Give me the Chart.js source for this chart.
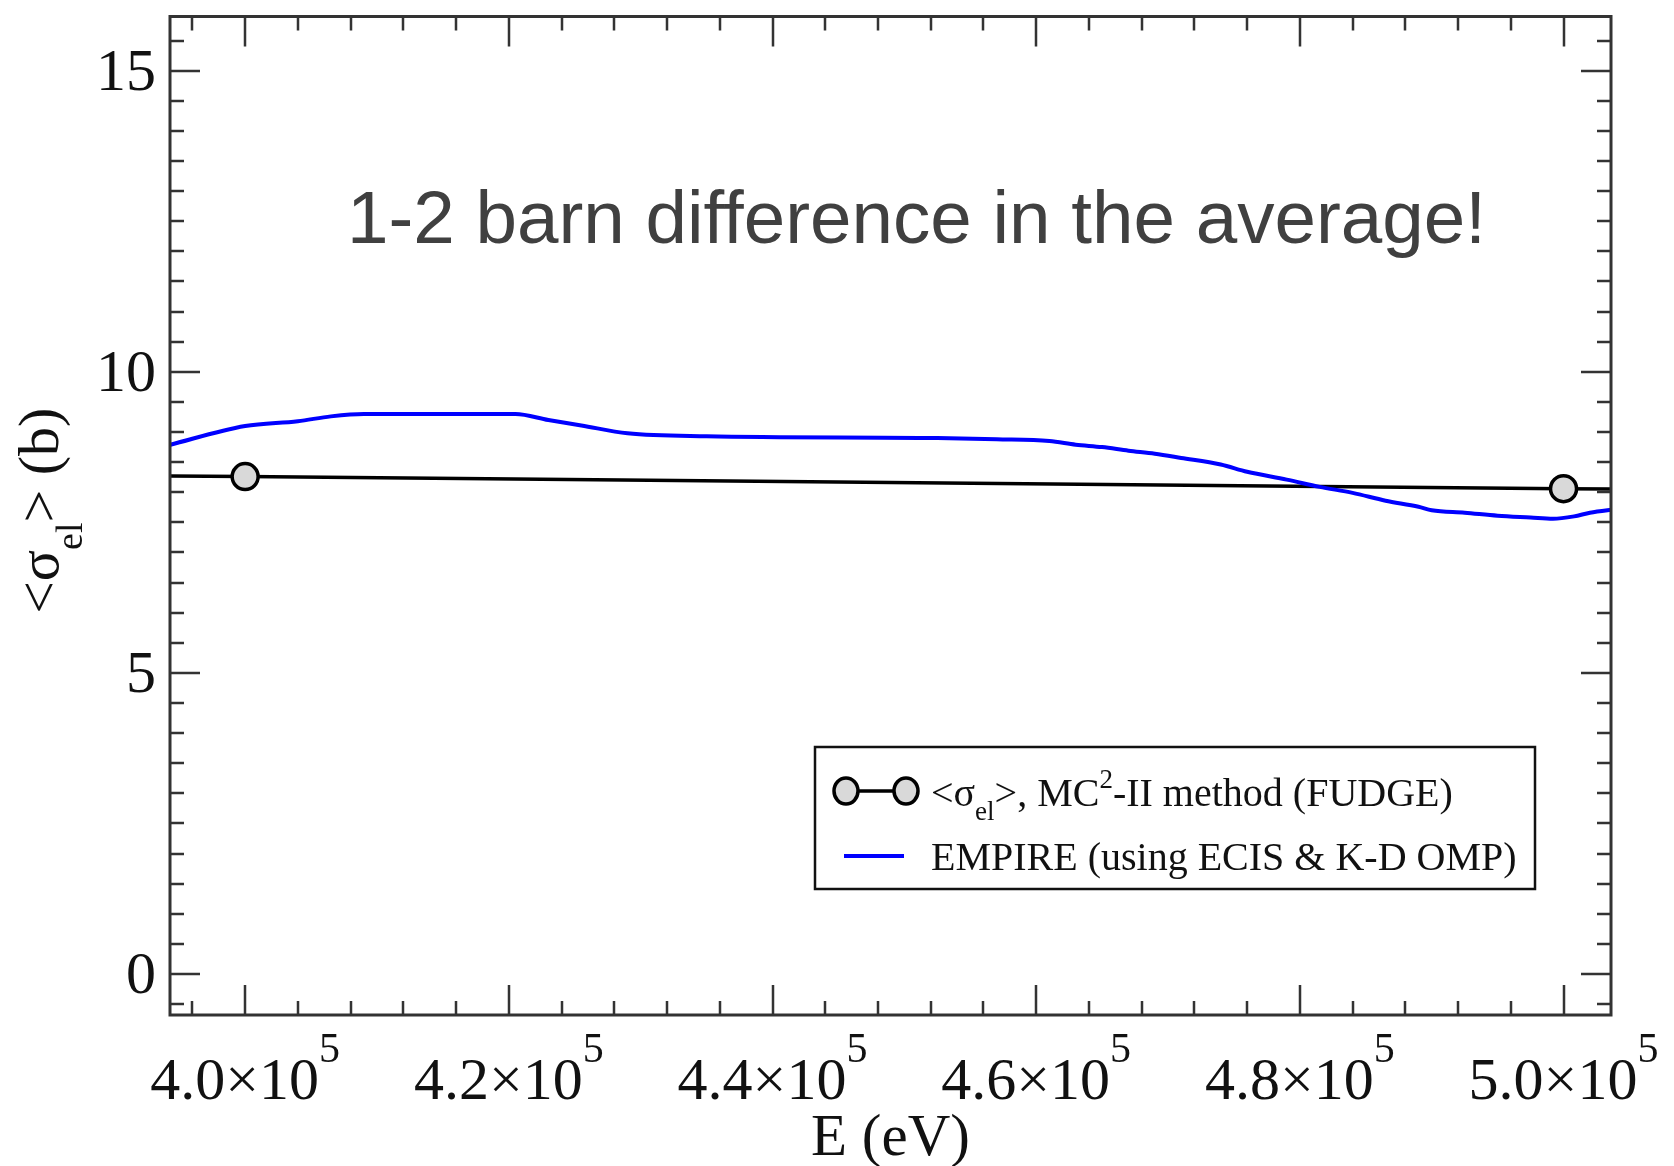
<!DOCTYPE html>
<html>
<head>
<meta charset="utf-8">
<title>Elastic cross section average</title>
<script src="https://cdn.jsdelivr.net/npm/chart.js@4.4.1/dist/chart.umd.min.js"></script>
<style>
  html, body { margin: 0; padding: 0; background: #fff; }
  canvas { display: block; }
</style>
</head>
<body>
<canvas id="myChart" width="1674" height="1166"></canvas>
<script>
// EMPIRE curve (ECIS & K-D OMP), energy in eV, <sigma_el> in barn
var empireEnergy = [394000, 400000, 404000, 406500, 409000, 420500, 423000, 425500, 429000, 435000,
                    452500, 457000, 461000, 463000, 465000, 467000, 469000, 471000, 474000, 476000,
                    479000, 481500, 484000, 486500, 489000, 490000, 492500, 495000, 497500, 499200,
                    500800, 502000, 504000];
var empireSigma = [8.77, 9.10, 9.18, 9.26, 9.30, 9.30, 9.20, 9.11, 8.98, 8.93,
                   8.90, 8.88, 8.85, 8.79, 8.75, 8.69, 8.64, 8.57, 8.46, 8.34,
                   8.21, 8.09, 7.99, 7.86, 7.76, 7.70, 7.66, 7.61, 7.58, 7.56,
                   7.60, 7.66, 7.72];

// MC2-II average from FUDGE
var fudgeEnergy = [300000, 400000, 500000, 600000];
var fudgeSigma = [8.46, 8.26, 8.06, 7.86];

var xTicks = [400000, 420000, 440000, 460000, 480000, 500000];
var xTickLabels = ['4.0', '4.2', '4.4', '4.6', '4.8', '5.0'];
var yTicks = [0, 5, 10, 15];
var yTickLabels = ['0', '5', '10', '15'];

var xMin = 394300, xMax = 503600;
var yMin = -0.68, yMax = 15.9;

var serif = '"Liberation Serif", "Times New Roman", serif';

function toPoints(xs, ys) {
    var pts = [];
    for (let i = 0; i < xs.length; i++) {
        pts.push({x: xs[i], y: ys[i]});
    }
    return pts;
}

// draws a run of text pieces (size, vertical shift) one after another
function drawParts(ctx, x, y, parts) {
    var cx = x;
    for (let i = 0; i < parts.length; i++) {
        var p = parts[i];
        ctx.font = p.size + 'px ' + serif;
        ctx.fillText(p.t, cx, y + (p.dy || 0));
        cx += ctx.measureText(p.t).width;
    }
    return cx - x;
}

function partsWidth(ctx, parts) {
    var w = 0;
    for (let i = 0; i < parts.length; i++) {
        ctx.font = parts[i].size + 'px ' + serif;
        w += ctx.measureText(parts[i].t).width;
    }
    return w;
}

var frame = {
    id: 'frame',
    afterDraw: function(chart) {
        var ctx = chart.ctx;
        var a = chart.chartArea;
        var xs = chart.scales.x, ys = chart.scales.y;
        ctx.save();

        // ticks on all four sides, pointing inwards
        ctx.strokeStyle = '#333';
        ctx.lineWidth = 2.5;
        ctx.beginPath();
        for (let v = Math.ceil(xMin / 4000) * 4000; v <= xMax; v += 4000) {
            var px = Math.round(xs.getPixelForValue(v));
            var len = (v % 20000 === 0) ? 30 : 14;
            ctx.moveTo(px, a.bottom); ctx.lineTo(px, a.bottom - len);
            ctx.moveTo(px, a.top); ctx.lineTo(px, a.top + len);
        }
        for (let i = Math.ceil(yMin / 0.5); i * 0.5 <= yMax; i++) {
            var py = Math.round(ys.getPixelForValue(i * 0.5));
            var len2 = (i % 10 === 0) ? 30 : 14;
            ctx.moveTo(a.left, py); ctx.lineTo(a.left + len2, py);
            ctx.moveTo(a.right, py); ctx.lineTo(a.right - len2, py);
        }
        ctx.stroke();

        ctx.lineWidth = 3;
        ctx.strokeRect(a.left, a.top, a.right - a.left, a.bottom - a.top);

        // tick labels
        ctx.fillStyle = '#111';
        ctx.textBaseline = 'alphabetic';
        ctx.textAlign = 'right';
        ctx.font = '60px ' + serif;
        for (let i = 0; i < yTicks.length; i++) {
            ctx.fillText(yTickLabels[i], a.left - 14, ys.getPixelForValue(yTicks[i]) + 19);
        }
        ctx.textAlign = 'left';
        for (let i = 0; i < xTicks.length; i++) {
            var lab = [{t: xTickLabels[i] + '\u00d710', size: 60}, {t: '5', size: 42, dy: -37}];
            var w = partsWidth(ctx, lab);
            drawParts(ctx, xs.getPixelForValue(xTicks[i]) - w / 2, a.bottom + 84, lab);
        }

        // axis titles
        var xt = [{t: 'E (eV)', size: 59}];
        drawParts(ctx, (a.left + a.right) / 2 - partsWidth(ctx, xt) / 2, 1155, xt);

        var yt = [{t: '<\u03c3', size: 58}, {t: 'el', size: 38, dy: 24}, {t: '> (b)', size: 58}];
        ctx.save();
        ctx.translate(58, (a.top + a.bottom) / 2 - 5);
        ctx.rotate(-Math.PI / 2);
        drawParts(ctx, -partsWidth(ctx, yt) / 2, 0, yt);
        ctx.restore();

        // note across the top of the plot
        ctx.fillStyle = '#404040';
        ctx.font = '74.6px "Liberation Sans", Arial, sans-serif';
        ctx.fillText('1-2 barn difference in the average!', 347, 243);

        // legend box
        var lx = 815, ly = 747, lw = 720, lh = 142;
        ctx.fillStyle = '#fff';
        ctx.fillRect(lx, ly, lw, lh);
        ctx.strokeStyle = '#111';
        ctx.lineWidth = 2.5;
        ctx.strokeRect(lx, ly, lw, lh);

        var r1 = 791, r2 = 856;
        ctx.strokeStyle = '#000';
        ctx.lineWidth = 3.5;
        ctx.beginPath(); ctx.moveTo(846, r1); ctx.lineTo(906, r1); ctx.stroke();
        [846, 906].forEach(function(cx) {
            ctx.beginPath();
            ctx.ellipse(cx, r1, 12, 13, 0, 0, Math.PI * 2);
            ctx.fillStyle = '#d9d9d9';
            ctx.fill();
            ctx.stroke();
        });
        ctx.strokeStyle = '#0000ff';
        ctx.lineWidth = 4;
        ctx.beginPath(); ctx.moveTo(844, r2); ctx.lineTo(904, r2); ctx.stroke();

        ctx.fillStyle = '#111';
        drawParts(ctx, 931, r1 + 15, [
            {t: '<\u03c3', size: 40}, {t: 'el', size: 27, dy: 14}, {t: '>, MC', size: 40},
            {t: '2', size: 27, dy: -18}, {t: '-II method (FUDGE)', size: 40}
        ]);
        drawParts(ctx, 931, r2 + 14, [{t: 'EMPIRE (using ECIS & K-D OMP)', size: 40}]);

        ctx.restore();
    }
};

var ctx = document.getElementById('myChart').getContext('2d');
var myChart = new Chart(ctx, {
    type: 'line',
    data: {
        datasets: [{
            label: 'EMPIRE (using ECIS & K-D OMP)',
            data: toPoints(empireEnergy, empireSigma),
            borderColor: '#0000ff',
            borderWidth: 4,
            pointRadius: 0,
            cubicInterpolationMode: 'monotone'
        }, {
            label: '<\u03c3el>, MC2-II method (FUDGE)',
            data: toPoints(fudgeEnergy, fudgeSigma),
            borderColor: '#000',
            borderWidth: 3.5,
            pointRadius: 13,
            pointBackgroundColor: '#d9d9d9',
            pointBorderColor: '#000',
            pointBorderWidth: 3.5,
            tension: 0
        }]
    },
    options: {
        responsive: false,
        animation: false,
        devicePixelRatio: 1,
        layout: { padding: { left: 170, top: 9, right: 63, bottom: 151 } },
        scales: {
            x: { type: 'linear', min: xMin, max: xMax, display: false },
            y: { type: 'linear', min: yMin, max: yMax, display: false }
        },
        plugins: {
            legend: { display: false },
            tooltip: { enabled: false }
        }
    },
    plugins: [frame]
});
</script>
</body>
</html>
